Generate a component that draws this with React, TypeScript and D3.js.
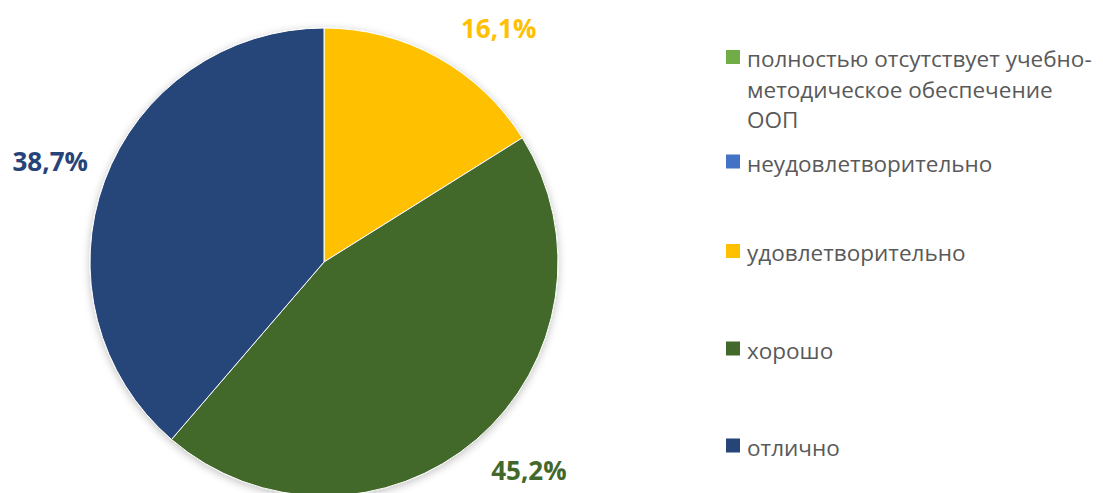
import React from "react";
import * as d3 from "d3";

const categories = [
  "полностью отсутствует учебно-методическое обеспечение ООП",
  "неудовлетворительно",
  "удовлетворительно",
  "хорошо",
  "отлично",
];
const values = [0, 0, 16.1, 45.2, 38.7];
const labels = ["0,0%", "0,0%", "16,1%", "45,2%", "38,7%"];
const colors = ["#70AD47", "#4472C4", "#FFC000", "#43682B", "#264478"];

const W = 1103;
const H = 493;
const CX = 324;
const CY = 262;
const R = 234;
const LABEL_R = 292;
const LABEL_FONT = 26;
const LEGEND_FONT = 22.5;
const LEGEND_X = 726;
const LEGEND_TEXT_X = 747;
const LEGEND_MAX_W = 352;
const LINE_H = 30.5;
// vertical centre of the first line of each legend entry
const legendRowY = [57.5, 162, 251.5, 349, 446];

const FONT = "'Open Sans', 'Noto Sans', sans-serif";

function wrap(text: string, maxW: number, font: string): string[] {
  const canvas = document.createElement("canvas");
  const ctx = canvas.getContext("2d")!;
  ctx.font = font;
  const tokens: string[] = [];
  text.split(" ").forEach((w, i, arr) => {
    const parts = w.split(/(?<=-)/);
    parts.forEach((p, j) => tokens.push(p + (j === parts.length - 1 && i < arr.length - 1 ? " " : "")));
  });
  const lines: string[] = [];
  let cur = "";
  tokens.forEach((t) => {
    const test = cur + t;
    if (ctx.measureText(test.trimEnd()).width > maxW && cur) {
      lines.push(cur.trimEnd());
      cur = t;
    } else cur = test;
  });
  if (cur) lines.push(cur.trimEnd());
  return lines;
}

export default function App() {
  const pie = d3.pie<number>().sort(null).value((d) => d)(values);
  const arc = d3.arc<d3.PieArcDatum<number>>().innerRadius(0).outerRadius(R);

  const labelPos = (d: d3.PieArcDatum<number>) => {
    const a = (d.startAngle + d.endAngle) / 2;
    let dx = LABEL_R * Math.sin(a);
    let dy = -LABEL_R * Math.cos(a);
    const minY = 28 - CY;
    const maxY = 470 - CY;
    if (dy < minY || dy > maxY) {
      dy = Math.max(minY, Math.min(maxY, dy));
      dx = Math.sign(dx) * Math.sqrt(LABEL_R * LABEL_R - dy * dy);
    }
    return [CX + dx, CY + dy];
  };

  return (
    <svg
      width={W}
      height={H}
      style={{ position: "absolute", left: 0, top: 0, display: "block", background: "#fff" }}
      fontFamily={FONT}
    >
      <defs>
        <filter id="sh" x="-20%" y="-20%" width="140%" height="140%">
          <feGaussianBlur in="SourceAlpha" stdDeviation="4" />
          <feOffset dx="0" dy="2" result="b" />
          <feComponentTransfer>
            <feFuncA type="linear" slope="0.25" />
          </feComponentTransfer>
          <feMerge>
            <feMergeNode />
            <feMergeNode in="SourceGraphic" />
          </feMerge>
        </filter>
      </defs>
      <g transform={`translate(${CX},${CY})`} filter="url(#sh)">
        {pie.map((d, i) =>
          d.value > 0 ? (
            <path key={i} d={arc(d) || ""} fill={colors[i]} stroke="#fff" strokeWidth={1} />
          ) : null
        )}
      </g>
      {pie.map((d, i) => {
        if (d.value <= 0) return null;
        const [x, y] = labelPos(d);
        return (
          <text
            key={i}
            x={x}
            y={y}
            textAnchor="middle"
            dominantBaseline="central"
            fontWeight="bold"
            fontSize={LABEL_FONT}
            fill={colors[i]}
          >
            {labels[i]}
          </text>
        );
      })}
      {categories.map((c, i) => {
        const lines = wrap(c, LEGEND_MAX_W, `${LEGEND_FONT}px ${FONT}`);
        const y0 = legendRowY[i];
        return (
          <g key={i}>
            <rect x={LEGEND_X} y={y0 - 7.5} width={14} height={14} fill={colors[i]} />
            {lines.map((l, j) => (
              <text
                key={j}
                x={LEGEND_TEXT_X}
                y={y0 + j * LINE_H + 1}
                dominantBaseline="central"
                fontSize={LEGEND_FONT}
                fill="#595959"
              >
                {l}
              </text>
            ))}
          </g>
        );
      })}
    </svg>
  );
}
